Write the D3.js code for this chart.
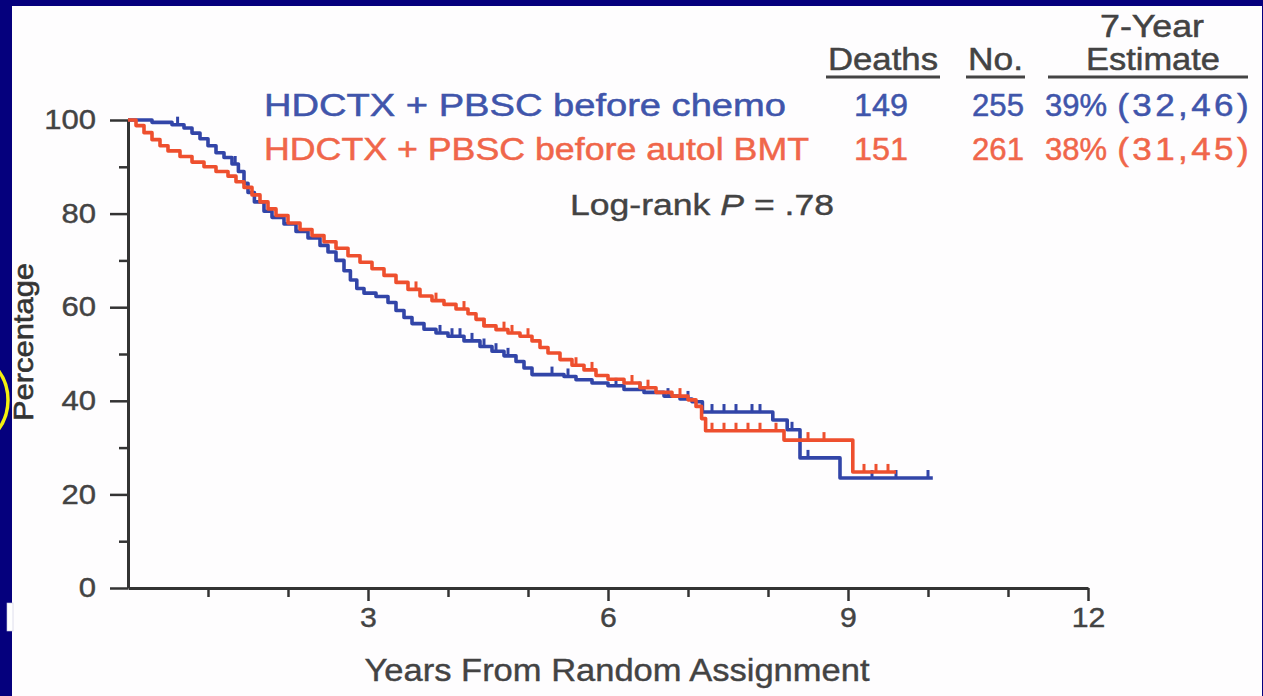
<!DOCTYPE html>
<html>
<head>
<meta charset="utf-8">
<script src="https://cdn.jsdelivr.net/npm/d3@7"></script>
<style>
  html, body { margin: 0; padding: 0; background: #05007d; }
  svg { display: block; }
</style>
</head>
<body>
<svg id="chart" width="1263" height="696"></svg>
<script>
// Overall survival, Kaplan-Meier estimates by arm (years, percent alive)
const chemoTimes = [0, 0.3, 0.55, 0.7, 0.8, 0.9, 1.0, 1.1, 1.2, 1.3, 1.38, 1.45, 1.5, 1.58, 1.7, 1.8, 1.95, 2.1, 2.25, 2.4, 2.5, 2.6, 2.7, 2.78, 2.86, 2.95, 3.1, 3.25, 3.35, 3.45, 3.55, 3.7, 3.85, 4.0, 4.2, 4.4, 4.55, 4.7, 4.85, 4.95, 5.05, 5.45, 5.6, 5.8, 6.0, 6.2, 6.45, 6.7, 6.9, 7.05, 7.18, 8.06, 8.24, 8.4, 8.9, 10.06];
const chemoSurv  = [100, 99.5, 99, 98.3, 97.2, 96, 94.5, 93, 92, 90.6, 89, 86.5, 84.5, 82.5, 80.5, 79.2, 77.8, 76.2, 74.8, 73.2, 71.8, 70, 67.8, 65.8, 64, 63, 62.3, 61, 59.3, 57.8, 56.5, 55.3, 54.5, 53.8, 52.8, 51.6, 50.6, 49.6, 48.4, 47, 45.6, 45.2, 44.5, 43.8, 43.2, 42.4, 41.8, 41, 40.4, 39.8, 37.6, 35.9, 33.8, 27.8, 23.5, 23.5];
const chemoCensored = [0.62, 1.34, 3.9, 4.05, 4.15, 4.3, 4.45, 4.6, 4.75, 5.3, 5.5, 6.1, 6.4, 6.75, 7.0, 7.3, 7.45, 7.6, 7.8, 7.9, 8.3, 8.5, 9.3, 9.6, 10.0];

const bmtTimes = [0, 0.1, 0.2, 0.3, 0.4, 0.5, 0.65, 0.8, 0.95, 1.1, 1.25, 1.35, 1.45, 1.55, 1.65, 1.75, 1.85, 2.0, 2.15, 2.3, 2.45, 2.6, 2.75, 2.9, 3.05, 3.2, 3.35, 3.5, 3.65, 3.8, 3.95, 4.1, 4.25, 4.35, 4.45, 4.6, 4.75, 4.9, 5.05, 5.15, 5.25, 5.4, 5.55, 5.7, 5.85, 6.0, 6.2, 6.4, 6.6, 6.8, 7.0, 7.1, 7.17, 7.22, 8.2, 9.06, 9.6];
const bmtSurv  = [100, 98.8, 97.3, 95.8, 94.5, 93.4, 92.2, 91, 90, 89, 88, 86.8, 85.6, 84, 82.5, 81, 79.6, 78, 76.6, 75.3, 74, 72.6, 71, 69.6, 68.2, 66.8, 65.3, 63.8, 62.4, 61.4, 60.6, 59.6, 58.6, 57.4, 56, 55.2, 54.5, 53.8, 52.8, 51.4, 50.2, 48.8, 47.6, 46.6, 45.4, 44.6, 43.8, 42.8, 41.8, 41, 40.2, 38.8, 36.2, 33.6, 31.6, 24.8, 24.8];
const bmtCensored = [3.6, 3.85, 4.2, 4.45, 4.7, 4.8, 5.0, 5.6, 5.8, 6.3, 6.5, 6.9, 7.3, 7.45, 7.6, 7.75, 7.9, 8.1, 8.5, 8.7, 9.2, 9.35, 9.5];

// Legend table
const armNames   = ["HDCTX + PBSC before chemo", "HDCTX + PBSC before autol BMT"];
const armDeaths  = ["149", "151"];
const armNumbers = ["255", "261"];
const armEst     = ["39%", "38%"];
const armCI      = ["(32,46)", "(31,45)"];
const armColors  = ["#3245a8", "#ee4f2e"];
const armTextColors = ["#4055ab", "#f0664a"];

// Axis ticks
const yMajorTicks = [0, 20, 40, 60, 80, 100];
const yMinorTicks = [10, 30, 50, 70, 90];
const xMajorTicks = [3, 6, 9, 12];
const xMinorTicks = [1, 2, 4, 5, 7, 8, 10, 11];

const FONT = "'Liberation Sans', Arial, Helvetica, sans-serif";
const GREY = "#434343";

const svg = d3.select("#chart");

// Slide frame: navy background, white panel, highlight circle
svg.append("rect").attr("width", 1263).attr("height", 696).attr("fill", "#05007d");
svg.append("circle").attr("cx", -42).attr("cy", 400).attr("r", 50)
  .attr("fill", "none").attr("stroke", "#f4ef10").attr("stroke-width", 3.5);
svg.append("rect").attr("x", 12).attr("y", 6).attr("width", 1250).attr("height", 690).attr("fill", "#fefdfe");
svg.append("rect").attr("x", 7).attr("y", 603).attr("width", 6).attr("height", 28)
  .attr("fill", "#ffffff").attr("stroke", "#c8c8e0").attr("stroke-width", 0.6);

const x = d3.scaleLinear().domain([0, 12]).range([128, 1088]);
const y = d3.scaleLinear().domain([0, 100]).range([588, 120]);

// Stretch axis tick labels horizontally around their anchor
function stretch(sel, sx) {
  sel.each(function () {
    const t = d3.select(this);
    const tx = +t.attr("x") || 0;
    const ty = +t.attr("y") || 0;
    t.attr("x", 0).attr("y", 0).attr("transform", `translate(${tx},${ty}) scale(${sx},1)`);
  });
}

function styleAxis(g) {
  g.selectAll("path.domain").attr("stroke", "#333").attr("stroke-width", 3);
  g.selectAll(".tick line").attr("stroke", "#333").attr("stroke-width", 2.5);
  g.selectAll(".tick text").attr("fill", GREY).attr("font-family", FONT).attr("font-size", 27)
    .attr("stroke", GREY).attr("stroke-width", 0.4);
}

// Y axis
const yMinor = svg.append("g").attr("transform", `translate(${x(0)},0)`)
  .call(d3.axisLeft(y).tickValues(yMinorTicks).tickSize(9).tickFormat(""));
yMinor.select("path.domain").remove();
styleAxis(yMinor);
const yAxis = svg.append("g").attr("transform", `translate(${x(0)},0)`)
  .call(d3.axisLeft(y).tickValues(yMajorTicks).tickSize(18).tickSizeOuter(0).tickPadding(14));
styleAxis(yAxis);
stretch(yAxis.selectAll(".tick text"), 1.15);

// X axis
const xMinor = svg.append("g").attr("transform", `translate(0,${y(0)})`)
  .call(d3.axisBottom(x).tickValues(xMinorTicks).tickSize(9).tickFormat(""));
xMinor.select("path.domain").remove();
styleAxis(xMinor);
const xAxis = svg.append("g").attr("transform", `translate(0,${y(0)})`)
  .call(d3.axisBottom(x).tickValues(xMajorTicks).tickSize(13).tickSizeOuter(0).tickPadding(7));
styleAxis(xAxis);
stretch(xAxis.selectAll(".tick text"), 1.12);

// Axis titles
svg.append("text")
  .attr("x", 617).attr("y", 681)
  .attr("text-anchor", "middle")
  .attr("font-family", FONT).attr("font-size", 31).attr("fill", GREY)
  .attr("stroke", GREY).attr("stroke-width", 0.4)
  .attr("textLength", 505).attr("lengthAdjust", "spacingAndGlyphs")
  .text("Years From Random Assignment");

svg.append("text")
  .attr("transform", "translate(33,342) rotate(-90)")
  .attr("text-anchor", "middle")
  .attr("font-family", FONT).attr("font-size", 28).attr("fill", "#333")
  .attr("stroke", "#333").attr("stroke-width", 0.6)
  .attr("textLength", 158).attr("lengthAdjust", "spacingAndGlyphs")
  .text("Percentage");

// Survival curves
const arms = [
  { times: chemoTimes, surv: chemoSurv, cens: chemoCensored, color: armColors[0] },
  { times: bmtTimes,   surv: bmtSurv,   cens: bmtCensored,   color: armColors[1] }
];

const line = d3.line()
  .x(d => x(d[0]))
  .y(d => y(d[1]))
  .curve(d3.curveStepAfter);

function survivalAt(arm, t) {
  const i = d3.bisectRight(arm.times, t) - 1;
  return arm.surv[Math.max(0, i)];
}

arms.forEach(arm => {
  const pts = arm.times.map((t, i) => [t, arm.surv[i]]);
  svg.append("path")
    .datum(pts)
    .attr("fill", "none")
    .attr("stroke", arm.color)
    .attr("stroke-width", 3.6)
    .attr("stroke-linejoin", "round")
    .attr("d", line);

  svg.append("g").selectAll("line")
    .data(arm.cens)
    .join("line")
    .attr("x1", d => x(d)).attr("x2", d => x(d))
    .attr("y1", d => y(survivalAt(arm, d)) + 1)
    .attr("y2", d => y(survivalAt(arm, d)) - 8)
    .attr("stroke", arm.color)
    .attr("stroke-width", 3);
});

// Text helper for the legend table
function label(txt, xPos, yPos, opts) {
  const fill = opts.fill || GREY;
  const t = svg.append("text")
    .attr("font-family", FONT)
    .attr("font-size", opts.size || 31)
    .attr("fill", fill)
    .attr("stroke", fill).attr("stroke-width", 0.5)
    .attr("text-anchor", opts.anchor || "start")
    .text(txt);
  if (opts.sx) {
    t.attr("transform", `translate(${xPos},${yPos}) scale(${opts.sx},1)`);
  } else {
    t.attr("x", xPos).attr("y", yPos);
  }
  if (opts.spacing) t.attr("letter-spacing", opts.spacing);
  if (opts.len) t.attr("textLength", opts.len).attr("lengthAdjust", "spacingAndGlyphs");
  return t;
}

label("7-Year", 1152, 37, { anchor: "middle", len: 104 });
label("Deaths", 828, 70, { len: 110 });
label("No.", 968, 70, { len: 55 });
label("Estimate", 1086, 70, { len: 134 });

const underlines = [[826, 940], [966, 1025], [1048, 1248]];
svg.append("g").selectAll("line")
  .data(underlines)
  .join("line")
  .attr("x1", d => d[0]).attr("x2", d => d[1])
  .attr("y1", 77).attr("y2", 77)
  .attr("stroke", "#444").attr("stroke-width", 3);

// Legend rows
const rowY = [116, 160];
const nameLen = [522, 545];
armNames.forEach((name, i) => {
  const c = armTextColors[i];
  label(name, 264, rowY[i], { fill: c, len: nameLen[i] });
  label(armDeaths[i], 908, rowY[i], { fill: c, anchor: "end", len: 54 });
  label(armNumbers[i], 1024, rowY[i], { fill: c, anchor: "end", len: 52 });
  label(armEst[i], 1045, rowY[i], { fill: c });
  label(armCI[i], 1252, rowY[i], { fill: c, anchor: "end", sx: 1.13, spacing: 3 });
});

// Log-rank test result
const lr = svg.append("text")
  .attr("x", 570).attr("y", 215)
  .attr("font-family", FONT).attr("font-size", 30).attr("fill", GREY)
  .attr("stroke", GREY).attr("stroke-width", 0.4)
  .attr("textLength", 264).attr("lengthAdjust", "spacingAndGlyphs");
lr.append("tspan").text("Log-rank ");
lr.append("tspan").attr("font-style", "italic").text("P");
lr.append("tspan").text(" = .78");
</script>
</body>
</html>
